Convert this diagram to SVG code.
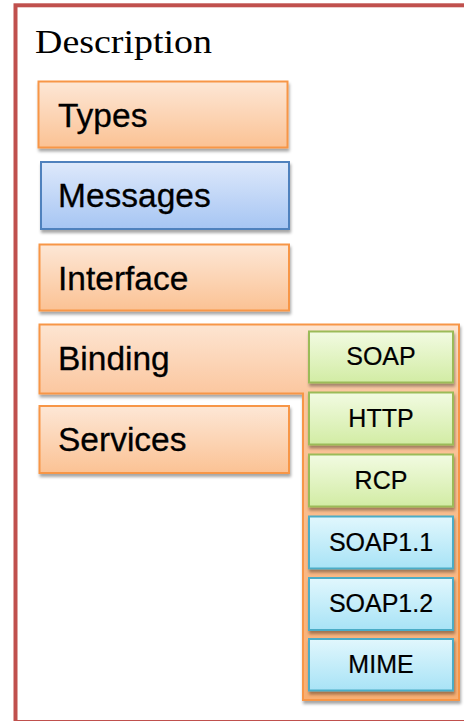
<svg xmlns="http://www.w3.org/2000/svg" width="464" height="721" viewBox="0 0 464 721">
<defs>
<linearGradient id="gOrange" x1="0" y1="0" x2="0" y2="1">
<stop offset="0" stop-color="#fde7d6"/><stop offset="1" stop-color="#fbc294"/>
</linearGradient>
<linearGradient id="gBlue" x1="0" y1="0" x2="0" y2="1">
<stop offset="0" stop-color="#dee9fb"/><stop offset="1" stop-color="#a6c5f3"/>
</linearGradient>
<linearGradient id="gGreen" x1="0" y1="0" x2="0" y2="1">
<stop offset="0" stop-color="#f2fbe2"/><stop offset="1" stop-color="#d2eca4"/>
</linearGradient>
<linearGradient id="gCyan" x1="0" y1="0" x2="0" y2="1">
<stop offset="0" stop-color="#e1f7fd"/><stop offset="1" stop-color="#a8e3f6"/>
</linearGradient>
<linearGradient id="gBind" gradientUnits="userSpaceOnUse" x1="0" y1="324" x2="0" y2="700">
<stop offset="0" stop-color="#fde5d2"/><stop offset="0.19" stop-color="#fbc69e"/><stop offset="1" stop-color="#f8ae72"/>
</linearGradient>
<filter id="sh" x="-10%" y="-10%" width="120%" height="130%">
<feDropShadow dx="1" dy="3" stdDeviation="1.8" flood-color="#000" flood-opacity="0.35"/>
</filter>
<style>
.frame{fill:none;stroke:#c0504d;stroke-width:4}
.o{fill:url(#gOrange);stroke:#f79646;stroke-width:2;filter:url(#sh)}
.b{fill:url(#gBlue);stroke:#4f81bd;stroke-width:2;filter:url(#sh)}
.g{fill:url(#gGreen);stroke:#9bbb59;stroke-width:2;filter:url(#sh)}
.c{fill:url(#gCyan);stroke:#4bacc6;stroke-width:2;filter:url(#sh)}
.bind{fill:url(#gBind);stroke:#f79646;stroke-width:2;filter:url(#sh)}
.big{font-family:"Liberation Sans",Arial,sans-serif;font-size:33.5px;fill:#000;stroke:#000;stroke-width:0.3}
.sm{font-family:"Liberation Sans",Arial,sans-serif;font-size:25px;fill:#000;text-anchor:middle;stroke:#000;stroke-width:0.2}
.title{font-family:"Liberation Serif","Times New Roman",serif;font-size:34px;fill:#000}
</style>
</defs>
<rect class="frame" x="15.5" y="5.3" width="500" height="716.7"/>
<text class="title" x="35" y="53" textLength="177" lengthAdjust="spacingAndGlyphs">Description</text>
<g id="types"><rect class="o" x="38.5" y="81.5" width="249" height="66"/><text class="big" x="58" y="127">Types</text></g>
<g id="messages"><rect class="b" x="41" y="162" width="248" height="67"/><text class="big" x="58" y="207">Messages</text></g>
<g id="interface"><rect class="o" x="39.5" y="244.5" width="249.5" height="66"/><text class="big" x="58" y="290">Interface</text></g>
<g id="binding"><path class="bind" d="M39.5,324.5 H459 V700 H303 V393.5 H39.5 Z"/><text class="big" x="58" y="370">Binding</text></g>
<g id="services"><rect class="o" x="39.5" y="406" width="249.5" height="67"/><text class="big" x="58" y="451">Services</text></g>
<g id="soap"><rect class="g" x="309" y="331.5" width="144" height="51"/><text class="sm" x="381" y="365">SOAP</text></g>
<g id="http"><rect class="g" x="309" y="392.5" width="144" height="52"/><text class="sm" x="381" y="427">HTTP</text></g>
<g id="rcp"><rect class="g" x="309" y="454.5" width="144" height="52"/><text class="sm" x="381" y="489">RCP</text></g>
<g id="soap11"><rect class="c" x="309" y="516.5" width="144" height="52"/><text class="sm" x="381" y="551">SOAP1.1</text></g>
<g id="soap12"><rect class="c" x="309" y="578" width="144" height="52"/><text class="sm" x="381" y="612">SOAP1.2</text></g>
<g id="mime"><rect class="c" x="309" y="639" width="144" height="51.5"/><text class="sm" x="381" y="673">MIME</text></g>
<g id="connectors"/>
</svg>
